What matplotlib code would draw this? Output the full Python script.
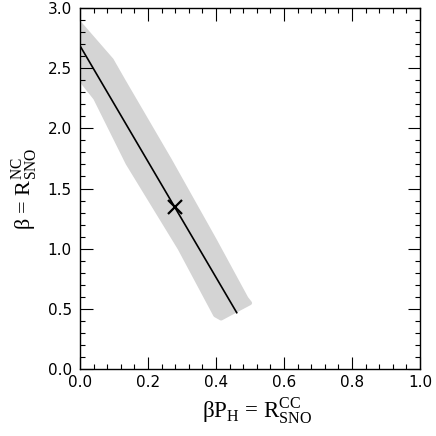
import matplotlib
matplotlib.use('Agg')
import matplotlib.pyplot as plt
from matplotlib.ticker import MultipleLocator

# band edges
band_upper_x = [0.0, 0.093, 0.127, 0.264, 0.396, 0.489, 0.500]
band_upper_y = [2.87, 2.568, 2.40, 1.737, 1.072, 0.588, 0.548]
band_lower_x = [0.415, 0.398, 0.293, 0.140, 0.045, 0.0]
band_lower_y = [0.420, 0.447, 1.003, 1.710, 2.250, 2.410]

# central line and best-fit point
line_x = [0.0, 0.461]
line_y = [2.686, 0.468]
best_x = [0.279]
best_y = [1.349]

plt.rcParams['mathtext.fontset'] = 'custom'
plt.rcParams['mathtext.rm'] = 'Liberation Serif'

fig = plt.figure(figsize=(4.36, 4.36), dpi=100)
ax = fig.add_axes([80 / 436, 67 / 436, 340 / 436, 361 / 436])

ax.fill(band_upper_x + band_lower_x, band_upper_y + band_lower_y,
        facecolor='#d4d4d4', edgecolor='#d4d4d4', linewidth=3, joinstyle='round')
ax.plot(line_x, line_y, color='black', linewidth=1.2)
ax.plot(best_x, best_y, marker='x', color='black', markersize=10, mew=1.6, linestyle='none')

ax.set_xlim(0, 1.0)
ax.set_ylim(0, 3.0)
ax.xaxis.set_major_locator(MultipleLocator(0.2))
ax.xaxis.set_minor_locator(MultipleLocator(0.04))
ax.yaxis.set_major_locator(MultipleLocator(0.5))
ax.yaxis.set_minor_locator(MultipleLocator(0.1))
ax.tick_params(which='both', direction='in', top=True, right=True, width=0.8, labelsize=11)
ax.tick_params(which='major', length=9)
ax.tick_params(which='minor', length=3.5)
ax.tick_params(axis='x', pad=4)
ax.tick_params(axis='y', pad=6)
for s in ax.spines.values():
    s.set_linewidth(1.0)

ax.set_xlabel(r'βP$_{\mathrm{H}}$ = $\mathrm{R}^{\mathrm{CC}}_{\mathrm{SNO}}$',
              family='Liberation Serif', fontsize=16.5, labelpad=3)
ax.xaxis.set_label_coords(0.52, -0.075)
ax.set_ylabel(r'β = $\mathrm{R}^{\mathrm{NC}}_{\mathrm{SNO}}$',
              family='Liberation Serif', fontsize=16, labelpad=5)

fig.savefig('out.png', dpi=100)
